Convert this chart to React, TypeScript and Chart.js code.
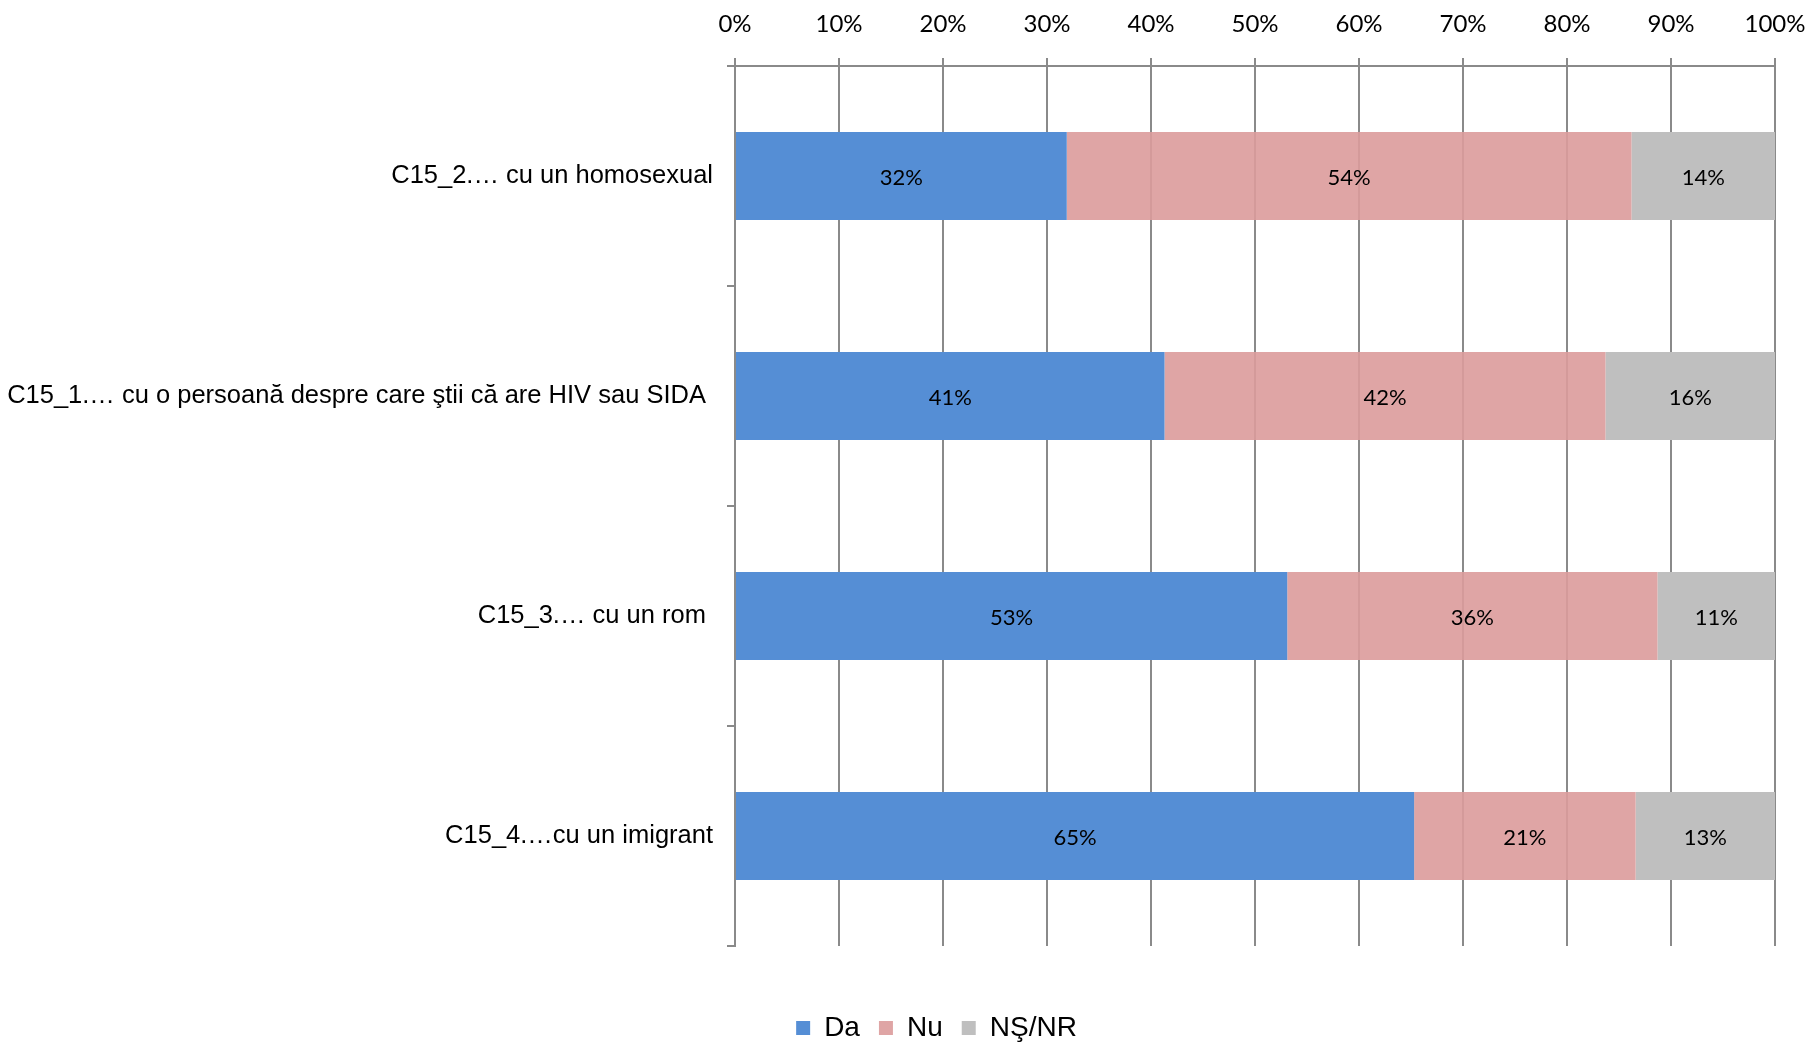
import React, { useEffect, useRef } from "react";
import Chart from "chart.js/auto";

const categories = [
  "C15_2.… cu un homosexual",
  "C15_1.… cu o persoană despre care ştii că are HIV sau SIDA ",
  "C15_3.… cu un rom ",
  "C15_4.…cu un imigrant",
];
const seriesNames = ["Da", "Nu", "NŞ/NR"];
const daValues = [31.9, 41.3, 53.1, 65.3];
const nuValues = [54.3, 42.4, 35.6, 21.3];
const nsValues = [13.8, 16.3, 11.3, 13.4];
const xTicks = [0, 10, 20, 30, 40, 50, 60, 70, 80, 90, 100];

const GRID = "#8a8a8a";

const dataLabelPlugin = {
  id: "segLabels",
  afterDatasetsDraw(chart: any) {
    const ctx = chart.ctx;
    ctx.save();
    ctx.font = "22px Lato";
    ctx.fillStyle = "#000";
    ctx.textAlign = "center";
    ctx.textBaseline = "middle";
    chart.data.datasets.forEach((ds: any, di: number) => {
      const meta = chart.getDatasetMeta(di);
      meta.data.forEach((el: any, i: number) => {
        const v = ds.data[i];
        const x = (el.x + el.base) / 2;
        ctx.fillText(Math.round(v) + "%", x, el.y + 2);
      });
    });
    ctx.restore();
  },
};

// shift the legend box to where the reference places it
const legendShift = {
  id: "legendShift",
  afterLayout(chart: any) {
    const lg = chart.legend;
    if (!lg) return;
    lg.left += 98;
    lg.top += 9;
    lg.bottom += 9;
  },
};

export default function App() {
  const ref = useRef<HTMLCanvasElement>(null);
  useEffect(() => {
    if (!ref.current) return;
    const chart = new Chart(ref.current, {
      type: "bar",
      data: {
        labels: categories,
        datasets: [
          { label: seriesNames[0], data: daValues, backgroundColor: "#558ed5", borderWidth: 0 },
          { label: seriesNames[1], data: nuValues, backgroundColor: "rgba(219,155,155,0.9)", borderWidth: 0 },
          { label: seriesNames[2], data: nsValues, backgroundColor: "#bfbfbf", borderWidth: 0 },
        ],
      },
      options: {
        indexAxis: "y",
        responsive: false,
        animation: false,
        layout: { padding: { left: 0, right: 43, top: 0, bottom: 0 } },
        datasets: { bar: { barPercentage: 0.4, categoryPercentage: 1 } },
        scales: {
          x: {
            type: "linear",
            position: "top",
            stacked: true,
            min: 0,
            max: 100,
            afterBuildTicks(s: any) {
              s.ticks = xTicks.map((v) => ({ value: v }));
            },
            afterFit(s: any) {
              s.height = 66;
            },
            ticks: {
              callback: (v: any) => v + "%",
              font: { family: "Lato", size: 24, lineHeight: 1.78 },
              color: "#000",
              padding: 12,
              maxRotation: 0,
            },
            grid: { color: GRID, lineWidth: 2, tickLength: 8, tickColor: GRID },
            border: { color: GRID, width: 2 },
          },
          y: {
            stacked: true,
            afterFit(s: any) {
              s.width = 735;
            },
            ticks: {
              font: { family: "Liberation Sans", size: 25.5 },
              color: "#000",
              padding: 14,
            },
            grid: { drawOnChartArea: false, tickLength: 8, color: GRID, lineWidth: 2, offset: true },
            border: { color: GRID, width: 2 },
          },
          xb: {
            type: "linear",
            position: "bottom",
            display: true,
            ticks: { display: false },
            grid: { display: false },
            border: { display: false },
            afterFit(s: any) {
              s.height = 40;
            },
          },
        },
        plugins: {
          legend: {
            position: "bottom",
            labels: {
              boxWidth: 14,
              boxHeight: 14,
              padding: 19,
              color: "#000",
              font: { family: "Liberation Sans", size: 28 },
            },
          },
          tooltip: { enabled: false },
        },
      },
      plugins: [dataLabelPlugin, legendShift],
    });
    return () => chart.destroy();
  }, []);
  return (
    <div style={{ position: "fixed", left: 0, top: 0, width: 1818, height: 1043, background: "#fff" }}>
      <canvas ref={ref} width={1818} height={1043} style={{ display: "block" }} />
    </div>
  );
}
